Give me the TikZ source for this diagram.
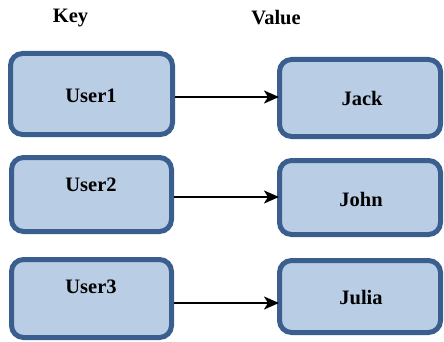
\documentclass[tikz,border=0pt]{standalone}
\usepackage{fontspec}
\setmainfont{Liberation Serif}
\usepackage{tikz}
\usetikzlibrary{arrows.meta}
\definecolor{boxfill}{HTML}{B9CDE5}
\definecolor{boxline}{HTML}{3A5F8E}
\tikzset{kvbox/.style = {draw = boxline, fill = boxfill, line width = 5pt,
                         rounded corners = 12pt, inner sep = 0}}
\tikzset{lbl/.style = {font = \fontsize{20.5}{24}\selectfont\bfseries, inner sep = 0}}
\tikzset{conn/.style = {line width = 2.2pt, shorten > = -2pt,
                        -{Stealth[length = 15pt, width = 13pt, inset = 4pt]}}}
\begin{document}
\begin{tikzpicture}[x = 1pt, y = -1pt]
      \useasboundingbox (0, 0) rectangle (444, 342);

      \node [lbl] (key) at (70.5, 18) {Key};
      \node [lbl] (val) at (276, 18) {Value};

      \node [kvbox, minimum width = 162pt, minimum height = 81pt] (u1) at (91.5, 94) {};
      \node [kvbox, minimum width = 161pt, minimum height = 77pt] (v1) at (360, 98) {};
      \node [kvbox, minimum width = 160pt, minimum height = 74pt] (u2) at (91.5, 194.5) {};
      \node [kvbox, minimum width = 161pt, minimum height = 74pt] (v2) at (360, 197.5) {};
      \node [kvbox, minimum width = 160pt, minimum height = 78pt] (u3) at (91.5, 298.5) {};
      \node [kvbox, minimum width = 161pt, minimum height = 72pt] (v3) at (360, 296.5) {};

      \node [lbl] (t1) at (91, 96) {User1};
      \node [lbl] (s1) at (362, 98.5) {Jack};
      \node [lbl] (t2) at (91, 185) {User2};
      \node [lbl] (s2) at (361, 199.5) {John};
      \node [lbl] (t3) at (91, 286.5) {User3};
      \node [lbl] (s3) at (361, 298) {Julia};

      \draw [conn] ([yshift = -3pt]u1.east) -- (v1.west |- 0, 97);
      \draw [conn] ([yshift = -2.5pt]u2.east) -- (v2.west |- 0, 197);
      \draw [conn] ([yshift = -4.5pt]u3.east) -- (v3.west |- 0, 303);
\end{tikzpicture}
\end{document}
